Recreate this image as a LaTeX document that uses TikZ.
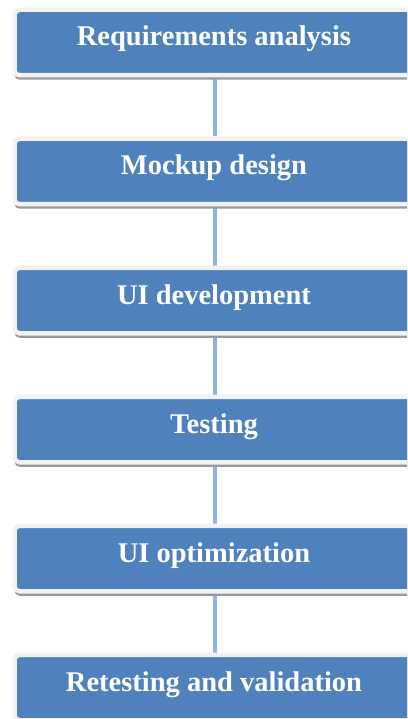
\documentclass[tikz,border=0pt]{standalone}
\usepackage{fontspec}
\setmainfont{Liberation Serif}
\usetikzlibrary{shadows}
\definecolor{boxblue}{HTML}{4F81BD}
\definecolor{linkblue}{HTML}{8DB3E2}
\definecolor{framegray}{HTML}{F2F2F2}
\pgfdeclarelayer{background}
\pgfsetlayers{background,main}
\begin{document}
\begin{tikzpicture}[x=1pt,y=1pt,
  stepbox/.style={rectangle, rounded corners=5pt, fill=boxblue, draw=framegray,
    line width=4.5pt, minimum width=399pt, minimum height=65.5pt, inner sep=0pt,
    text=white, font=\fontsize{28.5}{30}\selectfont\bfseries,
    text height=20pt, text depth=13pt,
    drop shadow={shadow xshift=0pt, shadow yshift=-4.5pt, fill=black!40, opacity=1}},
  link/.style={draw=linkblue, line width=4.5pt}]
\useasboundingbox (0,0) rectangle (407,-719);
\clip (0,0) rectangle (407,-719);
\node[stepbox] (b1) at (214,-42.5) {Requirements analysis};
\node[stepbox] (b2) at (214,-171.5) {Mockup design};
\node[stepbox] (b3) at (214,-300.5) {UI development};
\node[stepbox] (b4) at (214,-429.5) {Testing};
\node[stepbox] (b5) at (214,-558.5) {UI optimization};
\node[stepbox] (b6) at (214,-687.5) {Retesting and validation};
\begin{pgfonlayer}{background}
\foreach \a/\b in {b1/b2,b2/b3,b3/b4,b4/b5,b5/b6}
  \draw[link] ([xshift=1pt]\a.south) -- ([xshift=1pt]\b.north);
\end{pgfonlayer}
\end{tikzpicture}
\end{document}
